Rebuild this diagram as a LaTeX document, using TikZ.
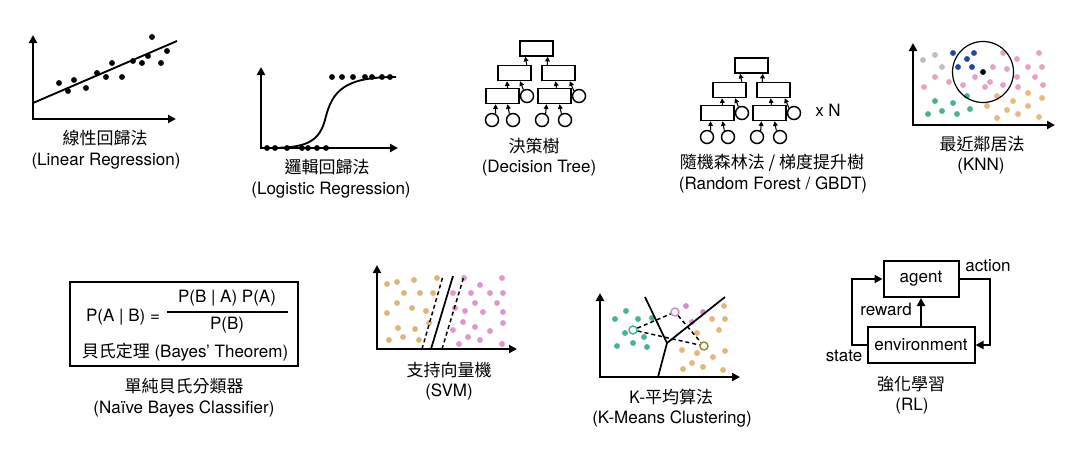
\documentclass[tikz,border=0pt]{standalone}
\usepackage{fontspec}
\setmainfont{TeX Gyre Heros}
\newfontfamily\cjk{Noto Sans CJK TC}
\usetikzlibrary{arrows.meta,calc}
\newdimen\pxu \pxu=0.75pt
\definecolor{kpink}{RGB}{232,160,196}
\definecolor{kteal}{RGB}{70,178,145}
\definecolor{korange}{RGB}{232,185,128}
\definecolor{kblue}{RGB}{35,70,165}
\definecolor{kgray}{RGB}{190,190,190}
\definecolor{spink}{RGB}{222,150,205}
\definecolor{sorange}{RGB}{222,180,120}
\definecolor{mgreen}{RGB}{70,180,140}
\definecolor{mpink}{RGB}{210,140,200}
\definecolor{morange}{RGB}{228,182,122}
\definecolor{molive}{RGB}{150,140,50}
\newcommand\mltree[3]{%
  \node[tbox] (#1a) at ({#2+16.5},{#3+7.5}) {};
  \node[tbox] (#1b) at ({#2-5.5},{#3+32}) {};
  \node[tbox] (#1c) at ({#2+38.5},{#3+32}) {};
  \node[tbox] (#1d) at ({#2-17.5},{#3+55}) {};
  \node[tcirc] (#1e) at ({#2+7},{#3+55}) {};
  \node[tbox] (#1f) at ({#2+34.5},{#3+55}) {};
  \node[tcirc] (#1g) at ({#2+59},{#3+55}) {};
  \node[tcirc] (#1h) at ({#2-28},{#3+79}) {};
  \node[tcirc] (#1i) at ({#2-7},{#3+79}) {};
  \node[tcirc] (#1j) at ({#2+22},{#3+79}) {};
  \node[tcirc] (#1k) at ({#2+45},{#3+79}) {};
  \draw[tarr] ([xshift=-5\pxu]#1b.north east) -- ([xshift=6\pxu]#1a.south west);
  \draw[tarr] ([xshift=6\pxu]#1c.north west) -- ([xshift=-6\pxu]#1a.south east);
  \draw[tarr] ([xshift=5\pxu]#1d.north) -- ([xshift=-7.5\pxu]#1b.south);
  \draw[tarr] (#1e.120) -- ([xshift=5.5\pxu]#1b.south);
  \draw[tarr] ([xshift=2\pxu]#1f.north) -- ([xshift=-3\pxu]#1c.south);
  \draw[tarr] (#1g.135) -- ([xshift=-6\pxu]#1c.south east);
  \draw[tarr] (#1h.60) -- ([xshift=-7\pxu]#1d.south);
  \draw[tarr] (#1i.120) -- ([xshift=5\pxu]#1d.south);
  \draw[tarr] (#1j.60) -- ([xshift=-8\pxu]#1f.south);
  \draw[tarr] (#1k.120) -- ([xshift=5\pxu]#1f.south);
}
\begin{document}
\begin{tikzpicture}[x=0.75pt,y=-0.75pt,
  every node/.style={font=\fontsize{12.75}{15}\selectfont, inner sep=0pt},
  axis/.style={line width=1.5pt,{Triangle[length=6pt,width=6pt]}-{Triangle[length=6pt,width=6pt]}},
  tbox/.style={draw, line width=1.1pt, minimum width=33\pxu, minimum height=15\pxu},
  tcirc/.style={circle, draw, line width=1.1pt, minimum size=13\pxu},
  tarr/.style={line width=0.8pt, -{Triangle[length=3.5pt,width=3.5pt]}},
  rlbox/.style={draw, line width=1.5pt, minimum height=36\pxu},
  rlarr/.style={line width=1.5pt, -{Triangle[length=6pt,width=6pt]}},
  cent/.style={circle, draw, fill=white, line width=1.1pt, minimum size=8\pxu},
  mdash/.style={line width=1.1pt, dash pattern=on 4\pxu off 3\pxu}]
\fill[white] (0,0) rectangle (1080,451);
\useasboundingbox (0,0) rectangle (1080,451);

% ---------- Linear regression
\draw[axis] (33,35) -- (33,119) -- (176,119);
\draw[line width=1.4pt] (33,103) -- (177,41);
\foreach \p in {(59,83),(68,91),(74,80),(86,88),(97,73),(106,77),(112,63),(122,77),(133,61),(142,63),(148,56),(152,37),(161,63),(167,51)}
  \fill \p circle[radius=2.2pt];
\node (lrc) at (105,138) {\cjk 線性回歸法};
\node (lrl) at (106,161) {(Linear Regression)};

% ---------- Logistic regression
\draw[axis] (261,67) -- (261,148) -- (398,148);
\draw[line width=1.4pt] (263,148) .. controls (300,148) and (318,146) .. (325,120) .. controls (332,90) and (345,77) .. (396,77);
\foreach \p in {(267,148),(275,148),(287,148),(302,148),(308,148),(317,148),(326,148),(332,77),(342,77),(353,77),(365,77),(372,77),(382,77),(390,77)}
  \fill \p circle[radius=2.2pt];
\node (loc) at (327,167) {\cjk 邏輯回歸法};
\node (lol) at (331,190) {(Logistic Regression)};

% ---------- Decision tree
\mltree{dt}{520}{41}
\node (dtc) at (534,146) {\cjk 決策樹};
\node (dtl) at (539,168) {(Decision Tree)};

% ---------- Random forest
\mltree{rf}{735}{58}
\node (xn) at (828,110) {x N};
\node (rfc) at (772,163) {\cjk 隨機森林法 / 梯度提升樹};
\node (rfl) at (773,185) {(Random Forest / GBDT)};

% ---------- KNN
\draw[axis] (913,43) -- (913,125) -- (1055,125);
\foreach \p in {(923,60),(935,55),(942,67)} \fill[kgray] \p circle[radius=2.2pt];
\foreach \p in {(953,53),(967,59),(974,53),(958,67),(972,67)} \fill[kblue] \p circle[radius=2.2pt];
\foreach \p in {(1003,53),(1017,59),(1039,53),(993,67),(1007,69),(1028,67),(1042,67),(935,77),(975,77),(990,82),(1017,77),(1035,77),(924,87),(949,82),(963,85),(985,87),(1003,85),(1018,87),(1043,85)}
  \fill[kpink] \p circle[radius=2.2pt];
\foreach \p in {(967,96),(935,101),(953,103),(942,111),(970,109),(928,114),(957,114)} \fill[kteal] \p circle[radius=2.2pt];
\foreach \p in {(997,96),(1028,93),(1042,98),(1013,101),(987,106),(1028,106),(1007,110),(1018,114),(997,118),(1039,117)}
  \fill[korange] \p circle[radius=2.2pt];
\node[circle, draw, line width=0.9pt, minimum size=61\pxu] (knnc) at (983,72) {};
\fill (knnc.center) circle[radius=2.2pt];
\node (knc) at (982,144) {\cjk 最近鄰居法};
\node (knl) at (981,166) {(KNN)};

% ---------- Naive Bayes
\node[draw, line width=1.5pt, minimum width=228\pxu, minimum height=84\pxu] (bayes) at (184,324) {};
\node (pab) at (123,317) {P(A | B) =};
\node (num) at (227,298) {P(B | A) P(A)};
\node (den) at (227,325) {P(B)};
\draw[line width=1.1pt] (167,312) -- (288,312);
\node (bthm) at (185,352) {{\cjk 貝氏定理} (Bayes' Theorem)};
\node (nbc) at (184,386) {\cjk 單純貝氏分類器};
\node (nbl) at (184,409) {(Naïve Bayes Classifier)};

% ---------- SVM
\draw[axis] (377,265) -- (377,349) -- (517,349);
\foreach \p in {(387,284),(397,282),(414,280),(437,278),(404,293),(420,293),(433,293),(397,303),(387,313),(412,308),(426,311),(398,328),(415,329),(429,323),(389,340),(403,337),(419,340)}
  \fill[sorange] \p circle[radius=2.2pt];
\foreach \p in {(464,278),(480,285),(502,278),(453,293),(471,293),(490,293),(503,293),(475,303),(497,303),(455,308),(465,311),(483,312),(503,312),(453,330),(463,322),(475,327),(490,331),(503,323),(468,337),(480,340),(459,344),(502,344)}
  \fill[spink] \p circle[radius=2.2pt];
\draw[line width=1.3pt] (431,349) -- (453,276);
\draw[mdash] (422,349) -- (443,276);
\draw[mdash] (442,349) -- (464,276);
\node (svc) at (449,370) {\cjk 支持向量機};
\node (svl) at (449,392) {(SVM)};

% ---------- K-means
\draw[axis] (600,293) -- (600,377) -- (740,377);
\foreach \p in {(615,319),(626,311),(638,319),(625,333),(617,346),(633,343),(644,337),(647,347),(652,318)}
  \fill[mgreen] \p circle[radius=2.2pt];
\foreach \p in {(692,322),(703,312),(686,306)}
  \fill[mpink] \p circle[radius=2.2pt];
\foreach \p in {(712,319),(725,319),(724,306),(719,330),(697,333),(682,350),(697,353),(713,357),(725,351),(683,369),(703,367),(723,370),(692,363)}
  \fill[morange] \p circle[radius=2.2pt];
\coordinate (vx) at (667,343);
\coordinate (vb) at (658,377);
\coordinate (vl) at (645,297);
\coordinate (vr) at (725,297);
\draw[line width=1.3pt] (vb) -- (vx) -- (vl);
\draw[line width=1.3pt] (vx) -- (vr);
\node[cent, draw=mgreen] (c1) at (633,330) {};
\node[cent, draw=mpink] (c2) at (675,312) {};
\node[cent, draw=molive] (c3) at (704,346) {};
\draw[mdash] (c1) -- (c2);
\draw[mdash] (c2) -- (c3);
\draw[mdash] (c1) -- (c3);
\node (kmc) at (671,397) {\cjk K-平均算法};
\node (kml) at (672,419) {(K-Means Clustering)};

% ---------- RL
\node[rlbox, minimum width=75\pxu] (agent) at (921,279) {agent};
\node[rlbox, minimum width=107\pxu] (env) at (921,345) {environment};
\draw[rlarr] (agent.east) -- ++(30,0) |- (env.east);
\draw[rlarr] (env.west) -- ++(-15,0) |- (agent.west);
\draw[rlarr] (env.north) -- (agent.south);
\node (act) at (988,266) {action};
\node (rew) at (886,309) {reward};
\node (sta) at (844,356) {state};
\node (rlc) at (911,384) {\cjk 強化學習};
\node (rll) at (912,406) {(RL)};
\end{tikzpicture}
\end{document}
